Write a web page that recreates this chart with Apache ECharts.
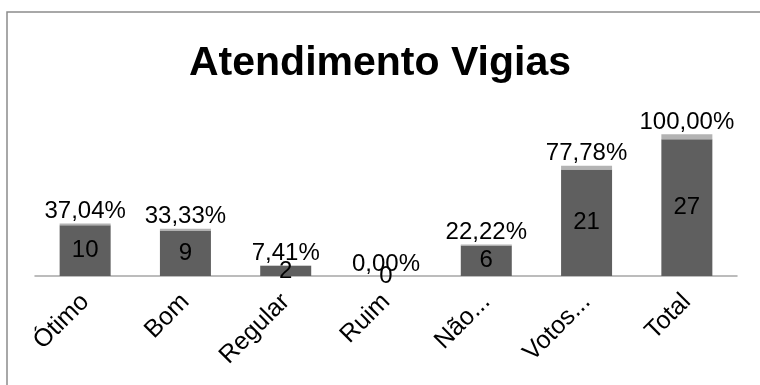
<!DOCTYPE html>
<html>
<head>
<meta charset="utf-8">
<script src="https://cdn.jsdelivr.net/npm/echarts@6/dist/echarts.min.js"></script>
<style>
  html, body { margin: 0; padding: 0; background: #ffffff; }
  #chart { width: 760px; height: 385px; }
</style>
</head>
<body>
<div id="chart"></div>
<script>
// Survey results: vote counts and their share of the total
const categories = ['Ótimo', 'Bom', 'Regular', 'Ruim', 'Não...', 'Votos...', 'Total'];
const counts = [10, 9, 2, 0, 6, 21, 27];
const percents = [37.04, 33.33, 7.41, 0.00, 22.22, 77.78, 100.00];

const FONT = '"Liberation Sans", Arial, sans-serif';

function formatPercent(p) {
  return p.toFixed(2).replace('.', ',') + '%';
}

const chart = echarts.init(document.getElementById('chart'), null, { renderer: 'canvas' });

chart.setOption({
  animation: false,
  backgroundColor: '#ffffff',
  title: {
    text: 'Atendimento Vigias',
    left: 'center',
    top: 38,
    textStyle: { fontFamily: FONT, fontWeight: 'bold', fontSize: 41, color: '#000000' }
  },
  graphic: [{
    type: 'rect',
    shape: { x: 7, y: 12, width: 800, height: 420 },
    style: { fill: 'none', stroke: '#8c8c8c', lineWidth: 1.5 },
    silent: true
  }],
  grid: { left: 35, right: 23, top: 124, bottom: 109 },
  xAxis: {
    type: 'category',
    data: categories,
    axisLine: { lineStyle: { color: '#a6a6a6', width: 1.5 } },
    axisTick: { show: false },
    axisLabel: {
      rotate: 45,
      margin: 22,
      interval: 0,
      fontFamily: FONT,
      fontSize: 25,
      color: '#000000'
    }
  },
  yAxis: {
    type: 'value',
    min: 0,
    max: 30,
    show: false,
    splitLine: { show: false }
  },
  series: [
    {
      name: 'Votos',
      type: 'bar',
      stack: 'total',
      barWidth: 51,
      data: counts,
      itemStyle: { color: '#5f5f5f' },
      label: {
        show: true,
        position: 'inside',
        fontFamily: FONT,
        fontSize: 24,
        color: '#000000'
      }
    },
    {
      name: 'Percentual',
      type: 'bar',
      stack: 'total',
      barWidth: 51,
      data: percents.map(p => p / 100),
      itemStyle: { color: '#b3b3b3' },
      label: {
        show: true,
        position: 'top',
        distance: 0,
        fontFamily: FONT,
        fontSize: 24,
        color: '#000000',
        formatter: params => formatPercent(percents[params.dataIndex])
      }
    }
  ]
});
</script>
</body>
</html>
